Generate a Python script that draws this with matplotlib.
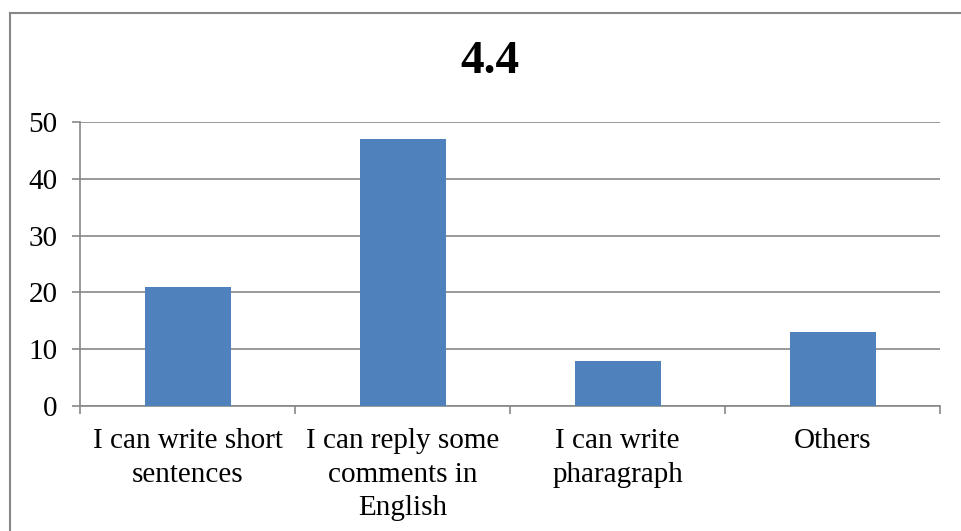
import numpy as np
import matplotlib
matplotlib.use("Agg")
import matplotlib.pyplot as plt
from matplotlib.lines import Line2D

categories = ["I can write short\nsentences",
              "I can reply some\ncomments in\nEnglish",
              "I can write\npharagraph",
              "Others"]
values = [21, 47, 8, 13]
yticks = [0, 10, 20, 30, 40, 50]
title = "4.4"

grey = "#878787"
blue = "#4F81BD"

plt.rcParams["font.family"] = ["Liberation Serif", "DejaVu Serif"]

fig = plt.figure(figsize=(9.61, 5.31), dpi=100)
ax = fig.add_axes([80/961, 1 - 406/531, 860/961, 284/531])

x = np.arange(len(values))
ax.bar(x, values, width=0.4, color=blue, zorder=3)

ax.set_xlim(-0.5, len(values) - 0.5)
ax.set_ylim(0, 50)
ax.set_yticks(yticks)
ax.set_yticklabels([str(v) for v in yticks], fontsize=21)
ax.set_xticks(x)
ax.set_xticklabels(categories, fontsize=21, linespacing=1.38, va="top")
ax.set_xticks(np.arange(-0.5, len(values)), minor=True)

ax.tick_params(axis="x", which="major", length=0, pad=16)
ax.tick_params(axis="x", which="minor", length=6, width=1.2, color=grey, direction="out")
ax.tick_params(axis="y", length=6, width=1.2, color=grey, pad=10)

ax.grid(axis="y", color=grey, linewidth=1.2, zorder=0)
ax.set_axisbelow(True)
for s in ["top", "right"]:
    ax.spines[s].set_visible(False)
for s in ["left", "bottom"]:
    ax.spines[s].set_color(grey)
    ax.spines[s].set_linewidth(1.2)

fig.text(490/961, 1 - 62/531, title, fontsize=34, fontweight="bold",
         ha="center", va="center")

# outer chart border (left and top visible)
fig.add_artist(Line2D([9.5/961, 9.5/961], [0, 1 - 13/531], color=grey, lw=1.5,
                      transform=fig.transFigure))
fig.add_artist(Line2D([9.5/961, 1], [1 - 13/531, 1 - 13/531], color=grey, lw=1.5,
                      transform=fig.transFigure))

fig.savefig("out.png", dpi=100)
